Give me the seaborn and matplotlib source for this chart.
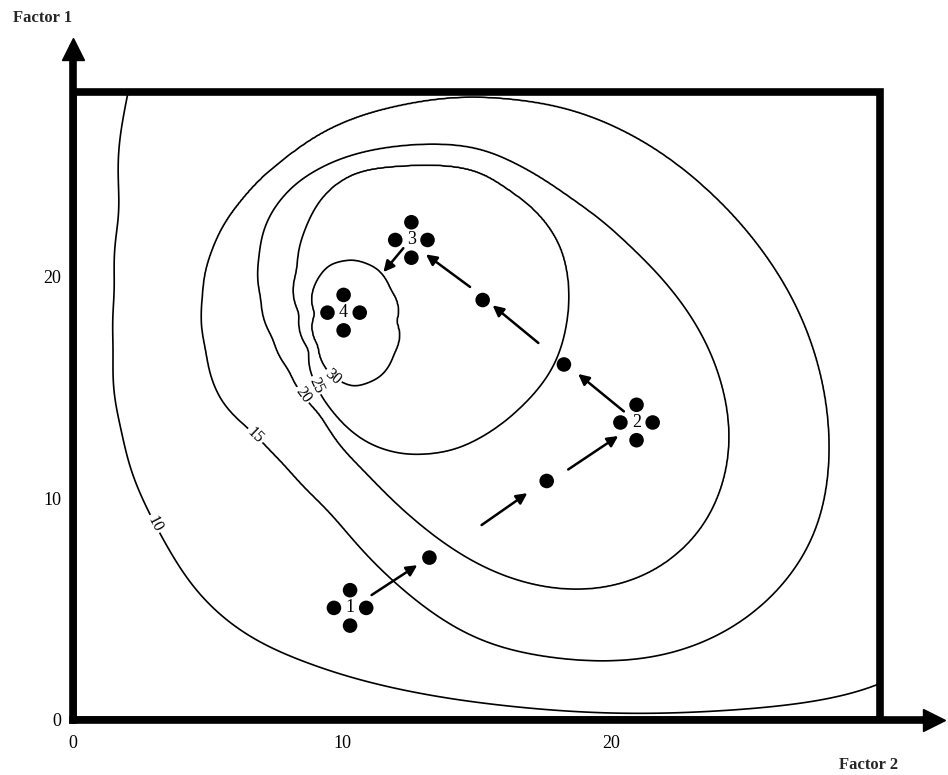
import numpy as np
import pandas as pd
import matplotlib
matplotlib.use('Agg')
import matplotlib.pyplot as plt
import seaborn as sns
from matplotlib.patches import Rectangle

# Contour lines (x = Factor 2, y = Factor 1)
levels = [10, 15, 20, 25, 30]

c10_x = [2.18, 1.87, 1.62, 1.56, 1.87, 2.74, 3.48, 4.84, 6.70, 8.56, 12.28, 15.13, 17.24, 19.71, 23.43, 27.15, 29.88]
c10_y = [28.30, 23.14, 19.46, 16.69, 13.01, 9.69, 8.04, 5.45, 3.61, 2.69, 1.40, 0.84, 0.57, 0.38, 0.47, 0.84, 1.21]
# the 10 line carries on outside the frame (not visible, closes the curve)
o10_x = [2.7, 5.0, 10.0, 16.0, 22.0, 28.0, 32.5, 35.0, 36.0, 35.0, 33.5, 31.5]
o10_y = [31.5, 33.5, 35.0, 35.5, 35.0, 33.5, 30.5, 25.0, 18.0, 10.0, 5.0, 2.2]

c15_x = [15.13, 12.28, 9.80, 7.94, 6.33, 5.22, 4.84, 4.97, 5.59, 6.83, 7.94, 9.80, 12.28, 15.13, 17.24,
         19.71, 22.19, 24.67, 26.53, 27.64, 28.08, 28.02, 27.52, 26.53, 25.29, 23.43, 20.96, 18.48, 16.00]
c15_y = [28.12, 27.74, 26.83, 25.35, 23.51, 21.30, 19.09, 16.69, 14.29, 12.91, 11.53, 9.32, 6.00, 3.42, 2.96,
         2.59, 2.87, 4.16, 6.19, 8.40, 11.16, 13.93, 16.69, 19.45, 21.66, 24.06, 26.27, 27.56, 28.02]

c20_x = [15.13, 12.28, 9.80, 8.31, 7.32, 6.95, 7.01, 7.45, 8.07, 8.56, 9.31, 11.04, 12.90, 15.13, 16.62,
         19.10, 21.57, 23.43, 24.30, 24.42, 24.18, 23.43, 22.19, 20.71, 18.48, 16.62]
c20_y = [25.81, 25.91, 25.26, 24.24, 22.77, 20.93, 19.09, 17.24, 15.77, 14.66, 13.74, 11.16, 8.95, 6.93, 6.19,
         5.73, 6.56, 8.58, 11.16, 13.00, 14.85, 17.24, 19.45, 21.30, 23.51, 24.99]

c25_x = [15.13, 12.28, 10.42, 9.31, 8.69, 8.38, 8.44, 8.81, 9.06, 9.68, 11.04, 12.28, 14.14, 16.62, 17.85,
         18.35, 18.41, 18.10, 17.24, 16.00]
c25_y = [24.80, 24.99, 24.71, 23.69, 22.22, 20.38, 18.35, 16.69, 15.12, 13.93, 12.45, 11.99, 12.18, 14.11, 15.95,
         17.98, 19.82, 21.48, 22.96, 24.06]

c30_x = [10.42, 9.55, 9.06, 9.00, 9.12, 9.68, 10.42, 11.41, 11.91, 12.01, 11.78, 11.29]
c30_y = [20.78, 20.56, 19.82, 18.35, 16.88, 15.49, 15.03, 15.49, 16.51, 17.98, 19.45, 20.38]

# where the contour numbers sit
label_x = [3.05, 6.84, 8.62, 9.07, 9.67]
label_y = [8.86, 12.91, 14.76, 15.12, 15.49]

# design centres (1-4) and half-width of each design
design_x = [10.30, 20.95, 12.58, 10.06]
design_y = [5.06, 13.43, 21.67, 18.39]
half_x = 0.6
half_y = 0.8

# single runs along the path
path_x = [13.25, 17.61, 18.25, 15.23]
path_y = [7.33, 10.79, 16.05, 18.96]

# arrows: tail -> head
arr_x0 = [11.10, 15.19, 18.41, 20.48, 17.30, 14.76, 12.28]
arr_y0 = [5.64, 8.80, 11.31, 13.93, 17.02, 19.55, 21.30]
arr_x1 = [12.80, 16.89, 20.27, 18.78, 15.60, 13.12, 11.54]
arr_y1 = [6.99, 10.24, 12.82, 15.62, 18.72, 21.02, 20.22]

box_w, box_h = 30.0, 28.35
peak_x, peak_y = 10.5, 18.0   # inside the 30 line

# ---- surface whose level lines follow the traced curves ----
# every traced line becomes a radius-vs-angle profile around the peak
ang = np.linspace(-np.pi, np.pi, 1440, endpoint=False)
half = 72
kern = np.exp(-0.5 * (np.arange(-half, half + 1) / 18.0) ** 2)
kern /= kern.sum()


def profile(xs, ys):
    xs, ys = np.asarray(xs, float), np.asarray(ys, float)
    t = np.arctan2(ys - peak_y, xs - peak_x)
    r = np.hypot(ys - peak_y, xs - peak_x)
    o = np.argsort(t)
    dense = np.interp(ang, t[o], r[o], period=2 * np.pi)
    ext = np.concatenate([dense[-half:], dense, dense[:half]])
    return np.convolve(ext, kern, mode='same')[half:-half]


traced = [(c10_x + o10_x, c10_y + o10_y), (c15_x, c15_y), (c20_x, c20_y), (c25_x, c25_y), (c30_x, c30_y)]

gx = np.linspace(0, box_w, 700)
gy = np.linspace(0, box_h, 660)
GX, GY = np.meshgrid(gx, gy)
theta = np.arctan2(GY - peak_y, GX - peak_x).ravel()
rho = np.hypot(GY - peak_y, GX - peak_x).ravel()

R = []
for xs, ys in traced:
    Rk = np.interp(theta, ang, profile(xs, ys), period=2 * np.pi)
    if R:
        Rk = np.minimum(Rk, R[-1] - 0.05)
    R.append(Rk)

Z = 10 - 5 * (rho - R[0]) / (R[0] - R[1])
for k in range(4):
    m = (rho < R[k]) & (rho >= R[k + 1])
    Z[m] = levels[k] + 5 * (R[k][m] - rho[m]) / (R[k][m] - R[k + 1][m])
m = rho < R[4]
Z[m] = 30 + 5 * (1 - rho[m] / R[4][m])
Z = Z.reshape(GX.shape)

# points table for seaborn
dots = []
for cx, cy in zip(design_x, design_y):
    dots += [(cx, cy + half_y), (cx - half_x, cy), (cx + half_x, cy), (cx, cy - half_y)]
dots += list(zip(path_x, path_y))
dots = pd.DataFrame(dots, columns=['Factor 2', 'Factor 1'])

# ---- plot ----
sns.set_theme(style='white')
plt.rcParams['font.family'] = ['Liberation Serif', 'DejaVu Serif']

fig = plt.figure(figsize=(9.48, 7.75), dpi=100)
ax = fig.add_axes([0.077, 0.071, 0.908, 0.866])
ax.set_xlim(0, 32.0)
ax.set_ylim(0, 30.3)

# one contour set per level so each number lands on its own line
for lev, lx, ly in zip(levels, label_x, label_y):
    cs = ax.contour(GX, GY, Z, levels=[lev], colors='black', linewidths=1.2)
    ax.clabel(cs, manual=[(lx, ly)], fmt='%d', fontsize=11.5, inline=True, inline_spacing=2)

ax.add_patch(Rectangle((0, 0), box_w, box_h, fill=False, ec='black', lw=5.5, joinstyle='miter', zorder=4))

sns.scatterplot(data=dots, x='Factor 2', y='Factor 1', color='black', s=110, edgecolor='none',
                legend=False, ax=ax, zorder=5)
for k, (cx, cy) in enumerate(zip(design_x, design_y)):
    ax.text(cx, cy, str(k + 1), ha='center', va='center', fontsize=13, color='black', zorder=6)

for x0, y0, x1, y1 in zip(arr_x0, arr_y0, arr_x1, arr_y1):
    ax.annotate('', xy=(x1, y1), xytext=(x0, y0),
                arrowprops=dict(arrowstyle='-|>', color='black', lw=1.8, mutation_scale=16,
                                shrinkA=0, shrinkB=0), zorder=6)

# axes with arrow heads
for side in ['top', 'right']:
    ax.spines[side].set_visible(False)
for side in ['left', 'bottom']:
    ax.spines[side].set_linewidth(5.5)
    ax.spines[side].set_color('black')
ax.plot(1, 0, '>', color='black', ms=16, transform=ax.get_yaxis_transform(), clip_on=False)
ax.plot(0, 1, '^', color='black', ms=16, transform=ax.get_xaxis_transform(), clip_on=False)

ax.set_xticks([0, 10, 20])
ax.set_yticks([0, 10, 20])
ax.tick_params(axis='both', direction='inout', length=10, width=1.5, labelsize=13, color='black',
               labelcolor='black')
ax.tick_params(axis='x', pad=6)
ax.set_xlabel('')
ax.set_ylabel('')

fig.text(0.045, 0.977, 'Factor 1', ha='center', va='center', fontsize=12, fontweight='bold')
fig.text(0.916, 0.013, 'Factor 2', ha='center', va='center', fontsize=12, fontweight='bold')

fig.savefig('out.png', dpi=100)
